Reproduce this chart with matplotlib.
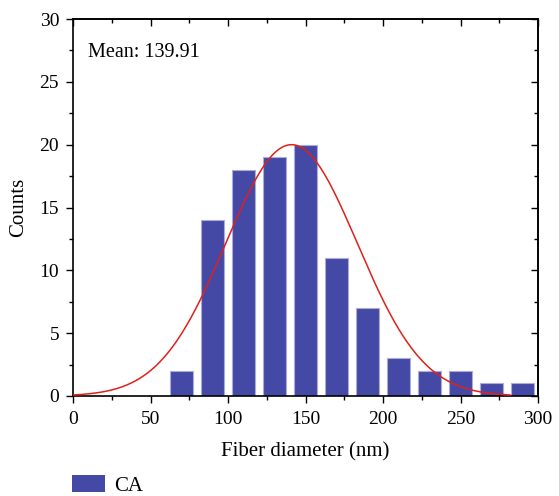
import numpy as np
import matplotlib
matplotlib.use("Agg")
import matplotlib.pyplot as plt
from matplotlib.ticker import MultipleLocator, NullFormatter
from matplotlib.patches import Patch

plt.rcParams["font.family"] = ["Liberation Serif", "DejaVu Serif"]
plt.rcParams["font.size"] = 14

bin_centers = [70, 90, 110, 130, 150, 170, 190, 210, 230, 250, 270, 290]
counts = [2, 14, 18, 19, 20, 11, 7, 3, 2, 2, 1, 1]

# gaussian fit
fit_center = 141.0
fit_sigma = 42.5
fit_amp = 20.0
fit_range = (0, 282)

bar_color = "#4549A6"

fig = plt.figure(figsize=(5.59, 4.96), dpi=100)
ax = fig.add_axes([73 / 559, 1 - 396 / 496, 465 / 559, 377 / 496])

ax.bar(bin_centers, counts, width=15, color=bar_color, edgecolor="#AAACDA", linewidth=0.8, zorder=2)

xs = np.linspace(fit_range[0], fit_range[1], 400)
ys = fit_amp * np.exp(-(xs - fit_center) ** 2 / (2 * fit_sigma ** 2))
ax.plot(xs, ys, color="#E0201B", lw=1.1, zorder=3)

ax.set_xlim(0, 300)
ax.set_ylim(0, 30)

ax.xaxis.set_major_locator(MultipleLocator(50))
ax.xaxis.set_minor_locator(MultipleLocator(25))
ax.yaxis.set_major_locator(MultipleLocator(5))
ax.yaxis.set_minor_locator(MultipleLocator(2.5))
ax.tick_params(which="both", direction="out", labelsize=14, width=1, pad=5)
ax.tick_params(axis="x", which="both", pad=6)
ax.tick_params(which="major", length=5)
ax.tick_params(which="minor", length=3)

top = ax.secondary_xaxis("top")
top.xaxis.set_major_locator(MultipleLocator(50))
top.xaxis.set_minor_locator(MultipleLocator(25))
top.xaxis.set_major_formatter(NullFormatter())
top.tick_params(which="both", direction="in", width=1)
top.tick_params(which="major", length=5)
top.tick_params(which="minor", length=3)

right = ax.secondary_yaxis("right")
right.yaxis.set_major_locator(MultipleLocator(5))
right.yaxis.set_minor_locator(MultipleLocator(2.5))
right.yaxis.set_major_formatter(NullFormatter())
right.tick_params(which="both", direction="in", width=1)
right.tick_params(which="major", length=5)
right.tick_params(which="minor", length=3)

for a in (ax, top, right):
    for sp in a.spines.values():
        sp.set_linewidth(1.2)

ax.set_xlabel("Fiber diameter (nm)", fontsize=15, labelpad=10)
ax.set_ylabel("Counts", fontsize=15, labelpad=8)
ax.text(0.033, 0.91, "Mean: 139.91", transform=ax.transAxes, fontsize=14.5, va="center", ha="left")

fig.legend(handles=[Patch(facecolor=bar_color, label="CA")], loc="lower left",
           bbox_to_anchor=(53 / 559, -0.037), frameon=False, fontsize=15,
           handlelength=1.6, handleheight=0.9, handletextpad=0.45)

fig.savefig("out.png", dpi=100)
